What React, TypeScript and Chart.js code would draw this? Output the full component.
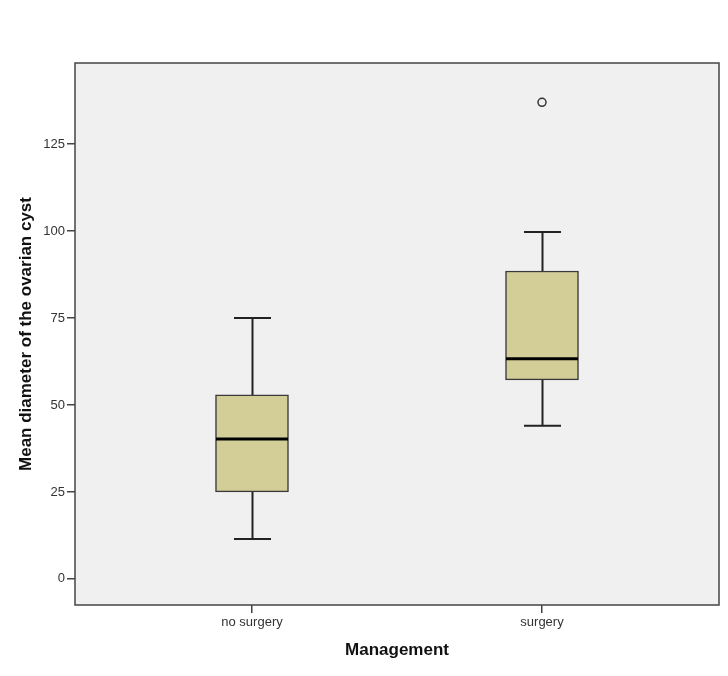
import React, { useEffect, useRef } from "react";
import { Chart, registerables } from "chart.js";

Chart.register(...registerables);

const categories = ["no surgery", "surgery"];
const whiskerLow = [11.5, 44];
const q1 = [25, 57.2];
const medians = [40.2, 63.3];
const q3 = [52.9, 88.5];
const whiskerHigh = [75, 99.7];
const outliers = [{ cat: 1, value: 137 }];
const yTicks = [0, 25, 50, 75, 100, 125];

const FONT = "'Liberation Sans', Arial, sans-serif";

const boxPlugin = {
  id: "boxPlugin",
  beforeDraw(chart: any) {
    const { ctx, chartArea } = chart;
    ctx.save();
    ctx.fillStyle = "#F0F0F0";
    ctx.fillRect(chartArea.left, chartArea.top, chartArea.right - chartArea.left, chartArea.bottom - chartArea.top);
    ctx.restore();
  },
  beforeDatasetsDraw(chart: any) {
    const { ctx } = chart;
    const xs = chart.scales.x;
    const ys = chart.scales.y;
    ctx.save();
    ctx.strokeStyle = "#222";
    ctx.lineWidth = 2;
    categories.forEach((_, i) => {
      const cx = Math.round(xs.getPixelForValue(i)) + 0.5;
      const lo = ys.getPixelForValue(whiskerLow[i]);
      const hi = ys.getPixelForValue(whiskerHigh[i]);
      const b1 = ys.getPixelForValue(q1[i]);
      const b3 = ys.getPixelForValue(q3[i]);
      ctx.beginPath();
      ctx.moveTo(cx, lo);
      ctx.lineTo(cx, b1);
      ctx.moveTo(cx, hi);
      ctx.lineTo(cx, b3);
      ctx.moveTo(cx - 18.5, lo);
      ctx.lineTo(cx + 18.5, lo);
      ctx.moveTo(cx - 18.5, hi);
      ctx.lineTo(cx + 18.5, hi);
      ctx.stroke();
    });
    ctx.restore();
  },
  afterDatasetsDraw(chart: any) {
    const { ctx, chartArea } = chart;
    const xs = chart.scales.x;
    const ys = chart.scales.y;
    ctx.save();
    ctx.strokeStyle = "#000";
    ctx.lineWidth = 3;
    categories.forEach((_, i) => {
      const cx = xs.getPixelForValue(i);
      const m = ys.getPixelForValue(medians[i]);
      ctx.beginPath();
      ctx.moveTo(cx - 36, m);
      ctx.lineTo(cx + 36, m);
      ctx.stroke();
    });
    ctx.strokeStyle = "#444";
    ctx.lineWidth = 1.5;
    ctx.strokeRect(chartArea.left, chartArea.top, chartArea.right - chartArea.left, chartArea.bottom - chartArea.top);
    ctx.restore();
  },
};

export default function App() {
  const ref = useRef<HTMLCanvasElement>(null);
  useEffect(() => {
    if (!ref.current) return;
    const chart = new Chart(ref.current, {
      type: "bar",
      data: {
        datasets: [
          {
            type: "bar",
            data: categories.map((_, i) => ({ x: i, y: [q1[i], q3[i]] })) as any,
            backgroundColor: "#D3CE98",
            borderColor: "#3a3a3a",
            borderWidth: 1.5,
            borderSkipped: false,
            barThickness: 73,
          } as any,
          {
            type: "scatter",
            data: outliers.map((o) => ({ x: o.cat, y: o.value })),
            pointRadius: 4,
            pointBackgroundColor: "#F0F0F0",
            pointBorderColor: "#333",
            pointBorderWidth: 1.5,
          } as any,
        ],
      },
      options: {
        animation: false,
        responsive: true,
        maintainAspectRatio: false,
        layout: { padding: { top: 63, right: 9, left: 0, bottom: 0 } },
        plugins: { legend: { display: false }, tooltip: { enabled: false } },
        scales: {
          x: {
            type: "linear",
            offset: false,
            min: -0.6103,
            max: 1.6103,
            afterBuildTicks: (s: any) => {
              s.ticks = categories.map((_, i) => ({ value: i }));
            },
            afterFit: (s: any) => {
              s.height = 71;
            },
            border: { display: false },
            grid: { offset: false, drawOnChartArea: false, drawTicks: true, tickLength: 8, color: "#444", lineWidth: 1.5 },
            ticks: {
              padding: 2,
              color: "#333",
              font: { family: FONT, size: 13 },
              callback: (v: any) => categories[v] ?? "",
            },
            title: {
              display: true,
              text: "Management",
              color: "#111",
              font: { family: FONT, size: 17, weight: "bold" },
              padding: { top: 0, bottom: 15 },
            },
          },
          y: {
            type: "linear",
            min: -7.5,
            max: 148.3,
            afterBuildTicks: (s: any) => {
              s.ticks = yTicks.map((v) => ({ value: v }));
            },
            afterFit: (s: any) => {
              s.width = 75;
            },
            border: { display: false },
            grid: { drawOnChartArea: false, drawTicks: true, tickLength: 8, color: "#444", lineWidth: 1.5 },
            ticks: {
              padding: 2,
              color: "#333",
              font: { family: FONT, size: 13 },
            },
            title: {
              display: true,
              text: "Mean diameter of the ovarian cyst",
              color: "#111",
              font: { family: FONT, size: 17, weight: "bold" },
              padding: { top: 16, bottom: 0 },
            },
          },
        },
      },
      plugins: [boxPlugin],
    });
    return () => chart.destroy();
  }, []);
  return (
    <div style={{ position: "fixed", left: 0, top: 0, width: 728, height: 676, background: "#fff" }}>
      <canvas ref={ref} />
    </div>
  );
}
